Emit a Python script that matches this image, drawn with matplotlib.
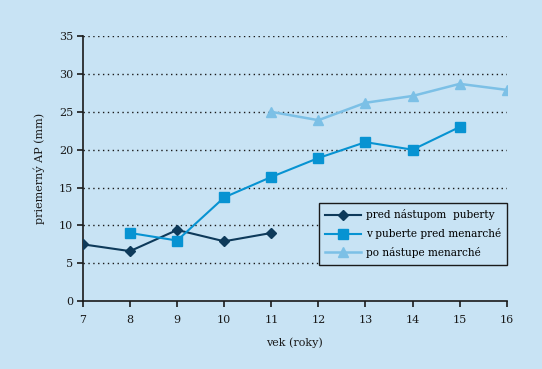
import matplotlib
matplotlib.use('Agg')
import matplotlib.pyplot as plt

# data
x1 = [7, 8, 9, 10, 11]
y1 = [7.5, 6.6, 9.4, 7.9, 9.0]
x2 = [8, 9, 10, 11, 12, 13, 14, 15]
y2 = [9.0, 8.0, 13.7, 16.4, 18.9, 21.0, 20.0, 23.0]
x3 = [11, 12, 13, 14, 15, 16]
y3 = [25.0, 23.9, 26.2, 27.1, 28.7, 27.9]
labels = ['pred nástupom  puberty', 'v puberte pred menarché', 'po nástupe menarché']

bg = '#c8e3f4'
c1 = '#0e3a5a'
c2 = '#0793d2'
c3 = '#7cc0e6'
ink = '#1a1a1a'

plt.rcParams['font.family'] = ['DejaVu Serif']

fig = plt.figure(figsize=(5.42, 3.69), dpi=100, facecolor=bg)
ax = fig.add_axes([0.153, 0.184, 0.782, 0.718])
ax.set_facecolor(bg)

for v in range(5, 40, 5):
    ax.plot([7, 16], [v, v], color=ink, lw=1.0, ls=(0, (1, 2.5)), zorder=1)

ax.plot(x1, y1, color=c1, lw=1.5, marker='D', ms=5.5, label=labels[0], zorder=3)
ax.plot(x2, y2, color=c2, lw=1.5, marker='s', ms=7.2, label=labels[1], zorder=3)
ax.plot(x3, y3, color=c3, lw=1.8, marker='^', ms=7.5, label=labels[2], zorder=3)

ax.set_xlim(7, 16)
ax.set_ylim(0, 35)
ax.set_xticks(range(7, 17))
ax.set_yticks(range(0, 40, 5))
for s in ['top', 'right']:
    ax.spines[s].set_visible(False)
for s in ['left', 'bottom']:
    ax.spines[s].set_color(ink)
    ax.spines[s].set_linewidth(1.2)
    ax.spines[s].set_clip_on(False)
ax.tick_params(colors=ink, labelsize=8, length=4, width=1.2)
ax.tick_params(axis='x', pad=6)
ax.tick_params(axis='y', pad=3)
ax.set_xlabel('vek (roky)', fontsize=8, color=ink, labelpad=9)
ax.set_ylabel('priemerný AP (mm)', fontsize=8, color=ink, labelpad=10)

leg = ax.legend(loc='upper right', bbox_to_anchor=(507 / 542, (369 - 203) / 369),
                bbox_transform=fig.transFigure, fontsize=7.6, frameon=True,
                fancybox=False, edgecolor=ink, facecolor=bg, framealpha=1,
                handlelength=3.4, borderpad=0.6, labelspacing=0.75, handletextpad=0.4,
                borderaxespad=0)
leg.get_frame().set_linewidth(1.0)

fig.savefig('out.png', dpi=100, facecolor=bg)
